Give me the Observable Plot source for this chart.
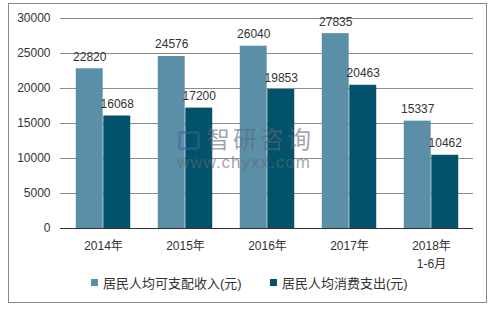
<!DOCTYPE html>
<html><head><meta charset="utf-8">
<script src="https://cdn.jsdelivr.net/npm/d3@7"></script>
<script src="https://cdn.jsdelivr.net/npm/@observablehq/plot@0.6"></script>
<style>
body{margin:0;background:#fff;font-family:"Liberation Sans","Noto Sans CJK SC",sans-serif;}
#wrap{position:relative;width:494px;height:309px;overflow:hidden;}
#frame{position:absolute;left:8px;top:3px;width:479px;height:300px;border:1px solid #888;box-sizing:border-box;}
#chart{position:absolute;left:0;top:0;}
#legend{position:absolute;top:273px;left:0;width:494px;font-size:13px;color:#333;}
.li{position:absolute;display:flex;align-items:center;white-space:nowrap;}
.sw{width:7px;height:7px;margin-right:5px;}
#wm1{position:absolute;left:206px;top:126px;font-size:24px;line-height:28px;letter-spacing:3px;color:rgba(95,105,115,0.6);}
#wm2{position:absolute;left:177px;top:153px;font-size:17px;line-height:20px;letter-spacing:1px;color:rgba(95,105,115,0.6);}
#wmlogo{position:absolute;left:178px;top:131px;width:22px;height:19px;border:3px solid rgba(60,100,150,0.5);box-sizing:border-box;border-radius:3px;}
</style></head><body>
<div id="wrap"><div id="frame"></div><div id="chart"></div><div id="legend"></div>
<div id="wmlogo"></div><div id="wm1">智研咨询</div><div id="wm2">www.chyxx.com</div>
</div>
<script>
const categories = ["2014年","2015年","2016年","2017年","2018年\n1-6月"];
const seriesNames = ["居民人均可支配收入(元)","居民人均消费支出(元)"];
const income = [22820,24576,26040,27835,15337];
const consumption = [16068,17200,19853,20463,10462];
const yTicks = [0,5000,10000,15000,20000,25000,30000];
const colors = ["#5b8fa8","#02526b"];

const dA = categories.map((c,i)=>({cat:c, v:income[i]}));
const dB = categories.map((c,i)=>({cat:c, v:consumption[i]}));
const step = (473-60)/categories.length;
const bw = step/3;

const chart = Plot.plot({
  width:494, height:270,
  marginLeft:60, marginRight:21, marginTop:18, marginBottom:42,
  style:{fontFamily:'"Liberation Sans","Noto Sans CJK SC",sans-serif', fontSize:"12px", color:"#333", background:"transparent"},
  x:{domain:categories, padding:0, label:null, tickSize:0, tickPadding:9},
  y:{domain:[0,30000], ticks:yTicks, label:null, tickSize:0, tickPadding:10, tickFormat:d=>String(d)},
  marks:[
    Plot.gridY(yTicks.filter(t=>t>0),{stroke:"#8c8c8c", strokeOpacity:1}),
    Plot.axisY({ticks:yTicks, tickSize:0, tickPadding:10, label:null, tickFormat:d=>String(d), fontSize:12}),
    Plot.axisX({tickSize:0, tickPadding:9, label:null, fontSize:12, lineHeight:1.5}),
    Plot.barY(dA,{x:"cat", y:"v", fill:colors[0], insetLeft:bw/2, insetRight:bw*1.5}),
    Plot.barY(dB,{x:"cat", y:"v", fill:colors[1], insetLeft:bw*1.5, insetRight:bw/2}),
    Plot.text(dA,{x:"cat", y:"v", text:d=>String(d.v), dx:-bw/2, dy:-8, lineAnchor:"bottom", fill:"#333", fontSize:12}),
    Plot.text(dB,{x:"cat", y:"v", text:d=>String(d.v), dx:bw/2, dy:-8, lineAnchor:"bottom", fill:"#333", fontSize:12}),
    Plot.ruleY([0],{stroke:"#333"})
  ]
});
document.getElementById("chart").appendChild(chart);

const legend = document.getElementById("legend");
const lx = [91, 270];
seriesNames.forEach((n,i)=>{
  const el = document.createElement("div");
  el.className="li"; el.style.left=lx[i]+"px";
  el.innerHTML = `<span class="sw" style="background:${colors[i]}"></span><span>${n}</span>`;
  legend.appendChild(el);
});
</script>
</body></html>
